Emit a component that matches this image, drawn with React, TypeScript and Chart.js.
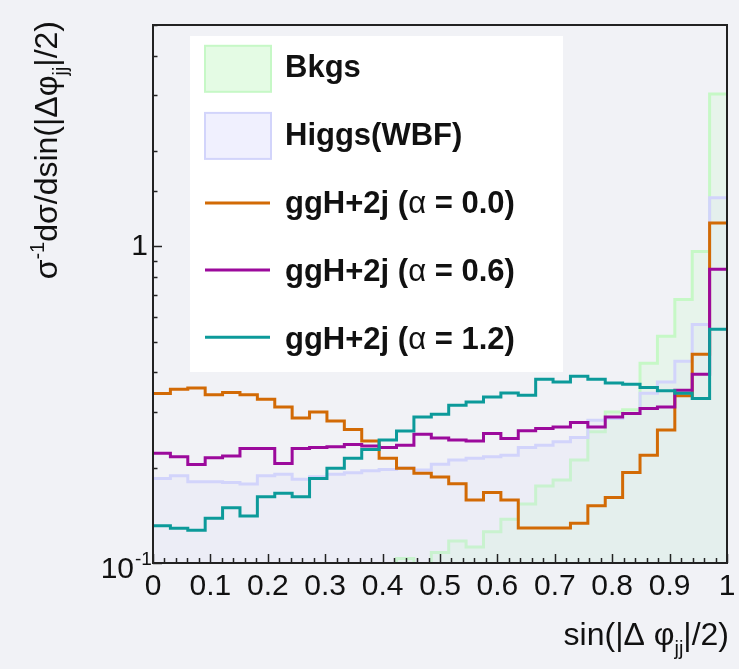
import React, { useEffect, useRef } from "react";
import { Chart, registerables } from "chart.js";

Chart.register(...registerables);

// Histogram binning: 33 equal bins on [0, 1]
const NBINS = 33;

// Normalised distributions, one value per bin
const bkgs = [
  0.05, 0.05, 0.055, 0.055, 0.06, 0.06, 0.065, 0.07, 0.07, 0.075, 0.08, 0.085, 0.09, 0.095,
  0.1034, 0.098, 0.108, 0.1173, 0.1124, 0.1255, 0.1374, 0.1535, 0.175, 0.1827, 0.2113,
  0.2596, 0.3, 0.305, 0.427, 0.52, 0.679, 0.964, 3.03,
];
const higgsWBF = [
  0.185, 0.1886, 0.1805, 0.1805, 0.1797, 0.1775, 0.1886, 0.1905, 0.1837, 0.1871, 0.1905,
  0.1927, 0.1955, 0.1975, 0.1995, 0.1965, 0.2052, 0.2113, 0.214, 0.2164, 0.219, 0.2317,
  0.2356, 0.2413, 0.249, 0.2826, 0.286, 0.2966, 0.3438, 0.373, 0.4337, 0.566, 1.424,
];
const ggHAlpha00 = [
  0.343, 0.354, 0.357, 0.34, 0.3455, 0.34, 0.329, 0.311, 0.287, 0.3, 0.281, 0.264, 0.2426,
  0.214, 0.199, 0.192, 0.187, 0.178, 0.158, 0.167, 0.158, 0.129, 0.129, 0.129, 0.1334,
  0.1516, 0.161, 0.193, 0.219, 0.263, 0.3377, 0.456, 1.184,
];
const ggHAlpha06 = [
  0.222, 0.2164, 0.2048, 0.215, 0.2176, 0.23, 0.23, 0.2063, 0.23, 0.2317, 0.2328, 0.2368,
  0.234, 0.2317, 0.2356, 0.255, 0.248, 0.2444, 0.2426, 0.2565, 0.2473, 0.2615, 0.266, 0.269,
  0.278, 0.269, 0.2893, 0.2966, 0.3076, 0.311, 0.3513, 0.3947, 0.846,
];
const ggHAlpha12 = [
  0.1311, 0.1287, 0.127, 0.1384, 0.1494, 0.1407, 0.1618, 0.166, 0.1618, 0.185, 0.199, 0.214,
  0.2284, 0.2444, 0.261, 0.2893, 0.295, 0.315, 0.3227, 0.3346, 0.3445, 0.3388, 0.3806, 0.373,
  0.389, 0.3806, 0.3704, 0.367, 0.3583, 0.3496, 0.3438, 0.3307, 0.547,
];

const seriesLabels = ["Bkgs", "Higgs(WBF)", "ggH+2j (α = 0.0)", "ggH+2j (α = 0.6)", "ggH+2j (α = 1.2)"];

const FONT = '"Liberation Sans", Arial, Helvetica, sans-serif';
const BG = "rgb(241,242,246)";
const INK = "#111";

// Each bin becomes a point at its lower edge; a closing point at x = 1 ends the last bin.
function toSteps(values: number[]) {
  const pts = values.map((y, k) => ({ x: k / NBINS, y }));
  pts.push({ x: 1, y: values[values.length - 1] });
  return pts;
}

type Piece = { text: string; size: number; weight?: string; dy?: number };

function piecesWidth(ctx: CanvasRenderingContext2D, pieces: Piece[]) {
  let w = 0;
  for (const p of pieces) {
    ctx.font = `${p.weight || "normal"} ${p.size}px ${FONT}`;
    w += ctx.measureText(p.text).width;
  }
  return w;
}

function drawPieces(ctx: CanvasRenderingContext2D, pieces: Piece[], x: number, y: number) {
  let cx = x;
  ctx.textAlign = "left";
  ctx.textBaseline = "alphabetic";
  for (const p of pieces) {
    ctx.font = `${p.weight || "normal"} ${p.size}px ${FONT}`;
    ctx.fillText(p.text, cx, y + (p.dy || 0));
    cx += ctx.measureText(p.text).width;
  }
}

const backgroundPlugin = {
  id: "pageBackground",
  beforeDraw(chart: any) {
    const { ctx, width, height } = chart;
    ctx.save();
    ctx.fillStyle = BG;
    ctx.fillRect(0, 0, width, height);
    ctx.restore();
  },
};

const framePlugin = {
  id: "frameAndLegend",
  afterDatasetsDraw(chart: any) {
    const { ctx, chartArea } = chart;
    const { left, right, top, bottom } = chartArea;
    const xs = chart.scales.x;
    const ys = chart.scales.y;
    ctx.save();
    ctx.strokeStyle = "#222";
    ctx.lineWidth = 1.5;
    // inward tick marks along the bottom axis
    for (let i = 0; i <= 50; i++) {
      const px = Math.round(xs.getPixelForValue(i / 50)) + 0.5;
      const len = i % 5 === 0 ? 9 : 5;
      ctx.beginPath();
      ctx.moveTo(px, bottom);
      ctx.lineTo(px, bottom - len);
      ctx.stroke();
    }
    // inward tick marks along the left axis, from the log scale's own ticks
    for (const t of ys.ticks) {
      const v = t.value;
      const py = Math.round(ys.getPixelForValue(v)) + 0.5;
      const lg = Math.log10(v);
      const major = Math.abs(lg - Math.round(lg)) < 1e-6;
      ctx.beginPath();
      ctx.moveTo(left, py);
      ctx.lineTo(left + (major ? 9 : 4.5), py);
      ctx.stroke();
    }
    // frame
    ctx.lineWidth = 2;
    ctx.strokeRect(left, top, right - left, bottom - top);
    ctx.restore();
  },
  afterDraw(chart: any) {
    const { ctx, chartArea } = chart;
    const ys = chart.scales.y;
    ctx.save();
    ctx.fillStyle = INK;

    // 10^-1 label at the bottom of the log axis
    const yMin = ys.getPixelForValue(0.1);
    ctx.font = `normal 30px ${FONT}`;
    ctx.textAlign = "right";
    ctx.textBaseline = "alphabetic";
    ctx.fillText("10", 134, yMin + 15);
    ctx.textAlign = "left";
    ctx.font = `normal 19px ${FONT}`;
    ctx.fillText("-1", 135, yMin + 2);

    // x-axis title, right-aligned to the frame
    const xPieces: Piece[] = [
      { text: "sin(|Δ φ", size: 32 },
      { text: "jj", size: 20, dy: 10 },
      { text: "|/2)", size: 32 },
    ];
    const xw = piecesWidth(ctx, xPieces);
    drawPieces(ctx, xPieces, chartArea.right + 2 - xw, 645);

    // y-axis title, rotated and aligned to the top of the frame
    const yPieces: Piece[] = [
      { text: "σ", size: 32 },
      { text: "-1", size: 20, dy: -13 },
      { text: "dσ/dsin(|Δφ", size: 32 },
      { text: "jj", size: 20, dy: 10 },
      { text: "|/2)", size: 32 },
    ];
    const yw = piecesWidth(ctx, yPieces);
    ctx.save();
    ctx.translate(57, chartArea.top - 4);
    ctx.rotate(-Math.PI / 2);
    drawPieces(ctx, yPieces, -yw, 0);
    ctx.restore();

    // legend box
    ctx.fillStyle = "#ffffff";
    ctx.fillRect(190, 36, 373, 336);
    chart.data.datasets.forEach((ds: any, i: number) => {
      const cy = 68.8 + 67.1 * i;
      const base = 76.5 + 68 * i;
      if (ds.fill) {
        ctx.fillStyle = ds.legendFill;
        ctx.fillRect(205, cy - 23, 66, 46);
        ctx.strokeStyle = ds.borderColor;
        ctx.lineWidth = 2;
        ctx.strokeRect(205, cy - 23, 66, 46);
      } else {
        ctx.strokeStyle = ds.borderColor;
        ctx.lineWidth = 3;
        ctx.beginPath();
        ctx.moveTo(205, cy);
        ctx.lineTo(270, cy);
        ctx.stroke();
      }
      ctx.fillStyle = INK;
      const parts = String(ds.label).split("α");
      const pieces: Piece[] = [];
      parts.forEach((p, j) => {
        if (j > 0) pieces.push({ text: "α", size: 31, weight: "normal" });
        if (p) pieces.push({ text: p, size: 31, weight: "bold" });
      });
      drawPieces(ctx, pieces, 285, base);
    });
    ctx.restore();
  },
};

export default function App() {
  const ref = useRef<HTMLCanvasElement>(null);

  useEffect(() => {
    const canvas = ref.current;
    if (!canvas) return;
    Chart.defaults.font.family = FONT;

    const common = {
      stepped: true,
      pointRadius: 0,
      pointHoverRadius: 0,
      pointHitRadius: 0,
      borderWidth: 3,
      tension: 0,
    };

    const chart = new Chart(canvas, {
      type: "line",
      data: {
        datasets: [
          {
            ...common,
            label: seriesLabels[0],
            data: toSteps(bkgs),
            borderColor: "#c6f8c6",
            backgroundColor: "rgba(200,250,200,0.24)",
            legendFill: "rgb(228,251,228)",
            fill: "start",
            order: 5,
          },
          {
            ...common,
            label: seriesLabels[1],
            data: toSteps(higgsWBF),
            borderColor: "#d2d4fb",
            backgroundColor: "rgba(214,216,252,0.18)",
            legendFill: "rgb(240,240,254)",
            fill: "start",
            order: 4,
          },
          {
            ...common,
            label: seriesLabels[2],
            data: toSteps(ggHAlpha00),
            borderColor: "#d26a05",
            fill: false,
            order: 3,
          },
          {
            ...common,
            label: seriesLabels[3],
            data: toSteps(ggHAlpha06),
            borderColor: "#9c0a9c",
            fill: false,
            order: 2,
          },
          {
            ...common,
            label: seriesLabels[4],
            data: toSteps(ggHAlpha12),
            borderColor: "#0c9a9a",
            fill: false,
            order: 1,
          },
        ] as any,
      },
      options: {
        animation: false,
        responsive: false,
        devicePixelRatio: 1,
        events: [],
        layout: { padding: { top: 25, right: 12, left: 0, bottom: 0 } },
        plugins: {
          legend: { display: false },
          tooltip: { enabled: false },
        },
        scales: {
          x: {
            type: "linear",
            min: 0,
            max: 1,
            grid: { display: false },
            border: { display: false },
            ticks: {
              stepSize: 0.1,
              autoSkip: false,
              maxRotation: 0,
              padding: -2,
              color: INK,
              font: { size: 30, family: FONT },
              callback: (v: any) => {
                const n = Number(v);
                if (Math.abs(n) < 1e-9) return "0";
                if (Math.abs(n - 1) < 1e-9) return "1";
                return n.toFixed(1);
              },
            },
            afterFit: (s: any) => {
              s.height = 106;
            },
          },
          y: {
            type: "logarithmic",
            min: 0.1,
            max: 5,
            grid: { display: false },
            border: { display: false },
            ticks: {
              autoSkip: false,
              padding: -3,
              color: INK,
              font: { size: 30, family: FONT },
              callback: (v: any) => (Math.abs(Number(v) - 1) < 1e-9 ? "1" : ""),
            },
            afterFit: (s: any) => {
              s.width = 153;
            },
          },
        },
      } as any,
      plugins: [backgroundPlugin, framePlugin],
    });

    return () => chart.destroy();
  }, []);

  return (
    <div style={{ position: "absolute", left: 0, top: 0, width: 739, height: 669, background: BG }}>
      <canvas ref={ref} width={739} height={669} style={{ display: "block" }} />
    </div>
  );
}
